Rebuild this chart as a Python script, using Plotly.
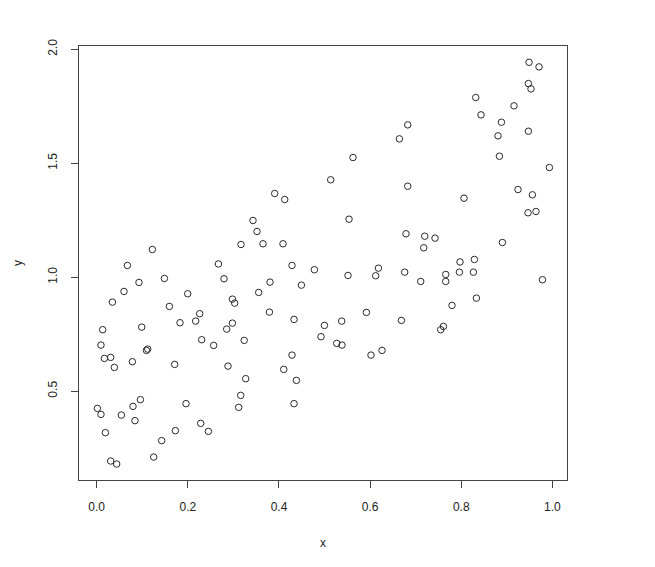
import plotly.graph_objects as go

x_vals = [0.1222, 0.3167, 0.6825, 0.6642, 0.5624, 0.5135, 0.6825, 0.3906, 0.4126, 0.3430,
          0.5537, 0.3518, 0.6787, 0.3649, 0.4088, 0.9487, 0.9706, 0.9473, 0.9530, 0.8317,
          0.9157, 0.8433, 0.8881, 0.8806, 0.9473, 0.8837, 0.9934, 0.9245, 0.9561, 0.8060,
          0.9465, 0.9640, 0.7198, 0.7424, 0.7176, 0.8903, 0.7972, 0.8288, 0.0674, 0.2671,
          0.2794, 0.0928, 0.1486, 0.0599, 0.1997, 0.0345, 0.1595, 0.2978, 0.3028, 0.2260,
          0.2172, 0.1828, 0.2978, 0.2853, 0.0988, 0.0132, 0.0094, 0.2304, 0.2567, 0.3237,
          0.1091, 0.1119, 0.0169, 0.0307, 0.0388, 0.0783, 0.1712, 0.2881, 0.3270, 0.3160,
          0.3116, 0.0015, 0.0094, 0.0542, 0.0797, 0.0959, 0.0840, 0.1960, 0.0191, 0.1727,
          0.2282, 0.2451, 0.1426, 0.1251, 0.0307, 0.0439, 0.4286, 0.4777, 0.5515, 0.6182,
          0.6122, 0.6759, 0.3803, 0.4492, 0.3555, 0.3790, 0.4330, 0.4997, 0.5376, 0.5918,
          0.6686, 0.4922, 0.5267, 0.5383, 0.6019, 0.6261, 0.4286, 0.4104, 0.4382, 0.4330,
          0.7110, 0.7659, 0.7659, 0.7959, 0.8266, 0.9781, 0.8332, 0.7797, 0.7608, 0.7549]

y_vals = [1.1215, 1.1434, 1.6684, 1.6070, 1.5250, 1.4272, 1.3991, 1.3671, 1.3408, 1.2487,
          1.2544, 1.2004, 1.1904, 1.1465, 1.1465, 1.9430, 1.9228, 1.8496, 1.8263, 1.7882,
          1.7518, 1.7123, 1.6798, 1.6202, 1.6404, 1.5307, 1.4811, 1.3846, 1.3614, 1.3465,
          1.2825, 1.2882, 1.1798, 1.1711, 1.1289, 1.1522, 1.0667, 1.0776, 1.0513, 1.0579,
          0.9930, 0.9768, 0.9943, 0.9373, 0.9272, 0.8904, 0.8715, 0.9035, 0.8860, 0.8395,
          0.8070, 0.8000, 0.7982, 0.7719, 0.7807, 0.7693, 0.7018, 0.7254, 0.7004, 0.7224,
          0.6785, 0.6842, 0.6434, 0.6478, 0.6039, 0.6289, 0.6171, 0.6096, 0.5544, 0.4811,
          0.4285, 0.4241, 0.3978, 0.3947, 0.4329, 0.4623, 0.3702, 0.4447, 0.3175, 0.3263,
          0.3583, 0.3232, 0.2825, 0.2105, 0.1930, 0.1798, 1.0513, 1.0325, 1.0075, 1.0395,
          1.0061, 1.0219, 0.9781, 0.9649, 0.9329, 0.8465, 0.8145, 0.7882, 0.8070, 0.8452,
          0.8101, 0.7386, 0.7092, 0.7018, 0.6579, 0.6785, 0.6579, 0.5952, 0.5469, 0.4447,
          0.9811, 1.0118, 0.9811, 1.0219, 1.0219, 0.9886, 0.9079, 0.8759, 0.7838, 0.7693]

x_ticks = [0.0, 0.2, 0.4, 0.6, 0.8, 1.0]
x_tick_labels = ["0.0", "0.2", "0.4", "0.6", "0.8", "1.0"]
y_ticks = [0.5, 1.0, 1.5, 2.0]
y_tick_labels = ["0.5", "1.0", "1.5", "2.0"]

FONT = "Liberation Sans, Arial, Helvetica, sans-serif"
LINE = "#444444"
TXT = "#222222"

fig = go.Figure(go.Scatter(
    x=x_vals, y=y_vals, mode="markers",
    marker=dict(symbol="circle-open", size=6.5, color="#2a2a2a", line=dict(width=1, color="#2a2a2a")),
    hoverinfo="x+y",
))

fig.update_layout(
    width=647, height=559,
    margin=dict(l=71, r=88, t=38, b=87),
    paper_bgcolor="white", plot_bgcolor="white",
    showlegend=False,
    font=dict(family=FONT, size=12, color=TXT),
    xaxis=dict(
        range=[-0.0388, 1.032], tickvals=x_ticks, ticktext=x_tick_labels,
        showgrid=False, zeroline=False, showline=True, mirror=True,
        linecolor=LINE, linewidth=1, ticks="outside", ticklen=7, tickwidth=1,
        tickcolor=LINE, ticklabelstandoff=9, tickfont=dict(size=12, color=TXT),
    ),
    yaxis=dict(
        range=[0.1097, 2.0145], tickvals=y_ticks, ticktext=y_tick_labels,
        showgrid=False, zeroline=False, showline=True, mirror=True,
        linecolor=LINE, linewidth=1, ticks="outside", ticklen=7, tickwidth=1,
        tickcolor=LINE, tickangle=-90, ticklabelstandoff=9, tickfont=dict(size=12, color=TXT),
    ),
    annotations=[
        dict(text="x", xref="paper", yref="paper", x=0.5, y=0, xanchor="center",
             yanchor="middle", yshift=-63, showarrow=False, font=dict(size=12, color=TXT)),
        dict(text="y", xref="paper", yref="paper", x=0, y=0.5, xanchor="center",
             yanchor="middle", xshift=-61, textangle=-90, showarrow=False,
             font=dict(size=12, color=TXT)),
    ],
)

fig.write_html("out.html")
